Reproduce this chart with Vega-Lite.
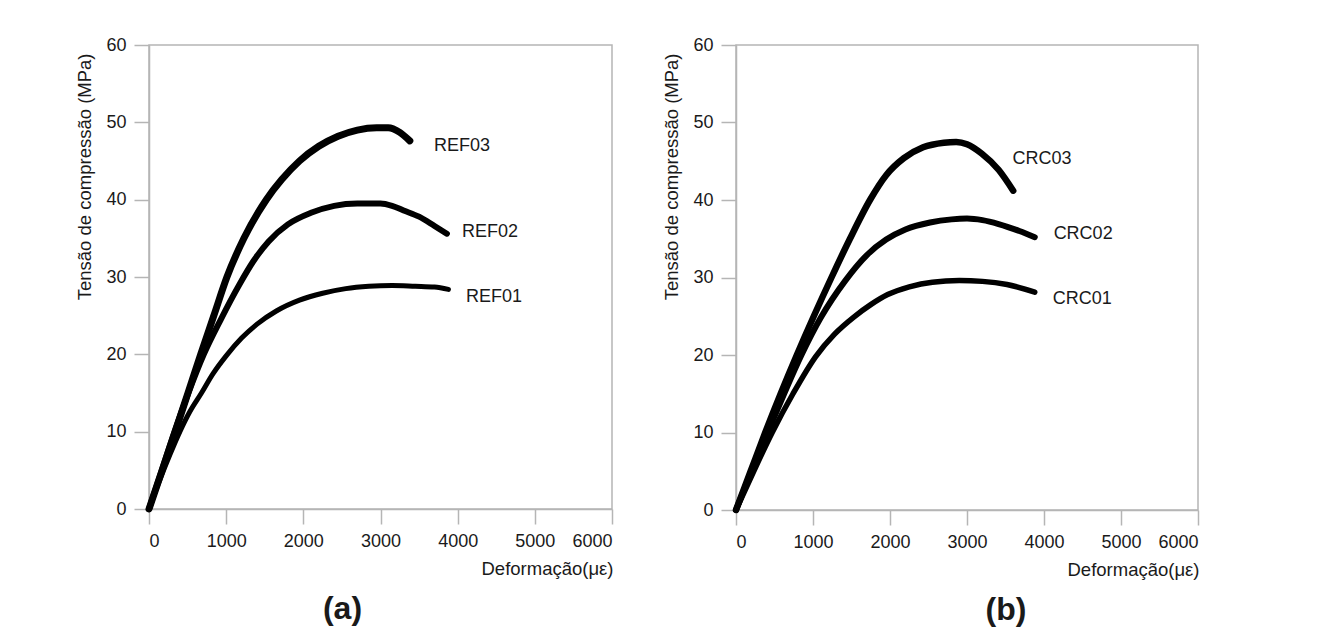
{
  "$schema": "https://vega.github.io/schema/vega-lite/v6.json",
  "background": "white",
  "padding": {"left": 74, "top": 35, "right": 10, "bottom": 5},
  "spacing": 47,
  "config": {
    "font": "Liberation Sans",
    "view": {"stroke": "#b5b5b5", "strokeWidth": 1.5},
    "axis": {
      "grid": false,
      "domainColor": "#b5b5b5",
      "domainWidth": 1.5,
      "tickColor": "#b5b5b5",
      "tickWidth": 1.5,
      "labelFont": "Liberation Sans",
      "labelFontSize": 18,
      "labelColor": "#1a1a1a",
      "titleFont": "Liberation Sans",
      "titleFontSize": 18.5,
      "titleFontWeight": "normal",
      "titleColor": "#1a1a1a"
    },
    "title": {"font": "Liberation Sans", "fontSize": 32, "fontWeight": "bold", "color": "#1a1a1a"}
  },
  "datasets": {
    "curves": [
      {"panel": "a", "series": "REF01", "strain": 0, "stress": 0},
      {"panel": "a", "series": "REF01", "strain": 130, "stress": 3.5},
      {"panel": "a", "series": "REF01", "strain": 270, "stress": 7},
      {"panel": "a", "series": "REF01", "strain": 400, "stress": 10},
      {"panel": "a", "series": "REF01", "strain": 530, "stress": 12.6},
      {"panel": "a", "series": "REF01", "strain": 680, "stress": 15},
      {"panel": "a", "series": "REF01", "strain": 830, "stress": 17.5},
      {"panel": "a", "series": "REF01", "strain": 1000, "stress": 19.8},
      {"panel": "a", "series": "REF01", "strain": 1200, "stress": 22.1},
      {"panel": "a", "series": "REF01", "strain": 1400, "stress": 23.9},
      {"panel": "a", "series": "REF01", "strain": 1650, "stress": 25.6},
      {"panel": "a", "series": "REF01", "strain": 1950, "stress": 27.0},
      {"panel": "a", "series": "REF01", "strain": 2250, "stress": 27.9},
      {"panel": "a", "series": "REF01", "strain": 2550, "stress": 28.5},
      {"panel": "a", "series": "REF01", "strain": 2850, "stress": 28.8},
      {"panel": "a", "series": "REF01", "strain": 3150, "stress": 28.9},
      {"panel": "a", "series": "REF01", "strain": 3450, "stress": 28.8},
      {"panel": "a", "series": "REF01", "strain": 3700, "stress": 28.7},
      {"panel": "a", "series": "REF01", "strain": 3880, "stress": 28.4},
      {"panel": "a", "series": "REF02", "strain": 0, "stress": 0},
      {"panel": "a", "series": "REF02", "strain": 165, "stress": 5},
      {"panel": "a", "series": "REF02", "strain": 330, "stress": 10},
      {"panel": "a", "series": "REF02", "strain": 510, "stress": 15},
      {"panel": "a", "series": "REF02", "strain": 710, "stress": 20},
      {"panel": "a", "series": "REF02", "strain": 930, "stress": 24.5},
      {"panel": "a", "series": "REF02", "strain": 1170, "stress": 29.0},
      {"panel": "a", "series": "REF02", "strain": 1350, "stress": 32.0},
      {"panel": "a", "series": "REF02", "strain": 1550, "stress": 34.6},
      {"panel": "a", "series": "REF02", "strain": 1800, "stress": 36.8},
      {"panel": "a", "series": "REF02", "strain": 2100, "stress": 38.3},
      {"panel": "a", "series": "REF02", "strain": 2400, "stress": 39.2},
      {"panel": "a", "series": "REF02", "strain": 2700, "stress": 39.5},
      {"panel": "a", "series": "REF02", "strain": 3000, "stress": 39.5},
      {"panel": "a", "series": "REF02", "strain": 3150, "stress": 39.2},
      {"panel": "a", "series": "REF02", "strain": 3300, "stress": 38.6},
      {"panel": "a", "series": "REF02", "strain": 3500, "stress": 37.8},
      {"panel": "a", "series": "REF02", "strain": 3700, "stress": 36.6},
      {"panel": "a", "series": "REF02", "strain": 3860, "stress": 35.6},
      {"panel": "a", "series": "REF03", "strain": 0, "stress": 0},
      {"panel": "a", "series": "REF03", "strain": 170, "stress": 5},
      {"panel": "a", "series": "REF03", "strain": 340, "stress": 10},
      {"panel": "a", "series": "REF03", "strain": 505, "stress": 15},
      {"panel": "a", "series": "REF03", "strain": 670, "stress": 20},
      {"panel": "a", "series": "REF03", "strain": 840, "stress": 25},
      {"panel": "a", "series": "REF03", "strain": 1010, "stress": 30},
      {"panel": "a", "series": "REF03", "strain": 1230, "stress": 35},
      {"panel": "a", "series": "REF03", "strain": 1520, "stress": 40},
      {"panel": "a", "series": "REF03", "strain": 1720, "stress": 42.6},
      {"panel": "a", "series": "REF03", "strain": 1950, "stress": 45},
      {"panel": "a", "series": "REF03", "strain": 2200, "stress": 46.9},
      {"panel": "a", "series": "REF03", "strain": 2450, "stress": 48.2},
      {"panel": "a", "series": "REF03", "strain": 2700, "stress": 49.0},
      {"panel": "a", "series": "REF03", "strain": 2950, "stress": 49.3},
      {"panel": "a", "series": "REF03", "strain": 3100, "stress": 49.3},
      {"panel": "a", "series": "REF03", "strain": 3250, "stress": 48.7},
      {"panel": "a", "series": "REF03", "strain": 3380, "stress": 47.6},
      {"panel": "b", "series": "CRC01", "strain": 0, "stress": 0},
      {"panel": "b", "series": "CRC01", "strain": 230, "stress": 5},
      {"panel": "b", "series": "CRC01", "strain": 470, "stress": 10},
      {"panel": "b", "series": "CRC01", "strain": 740, "stress": 15},
      {"panel": "b", "series": "CRC01", "strain": 1035, "stress": 19.8},
      {"panel": "b", "series": "CRC01", "strain": 1280, "stress": 22.7},
      {"panel": "b", "series": "CRC01", "strain": 1530, "stress": 24.9},
      {"panel": "b", "series": "CRC01", "strain": 1750, "stress": 26.5},
      {"panel": "b", "series": "CRC01", "strain": 1970, "stress": 27.8},
      {"panel": "b", "series": "CRC01", "strain": 2250, "stress": 28.8},
      {"panel": "b", "series": "CRC01", "strain": 2550, "stress": 29.4},
      {"panel": "b", "series": "CRC01", "strain": 2900, "stress": 29.6},
      {"panel": "b", "series": "CRC01", "strain": 3200, "stress": 29.5},
      {"panel": "b", "series": "CRC01", "strain": 3520, "stress": 29.1},
      {"panel": "b", "series": "CRC01", "strain": 3880, "stress": 28.1},
      {"panel": "b", "series": "CRC02", "strain": 0, "stress": 0},
      {"panel": "b", "series": "CRC02", "strain": 200, "stress": 5},
      {"panel": "b", "series": "CRC02", "strain": 410, "stress": 10},
      {"panel": "b", "series": "CRC02", "strain": 625, "stress": 15},
      {"panel": "b", "series": "CRC02", "strain": 850, "stress": 20},
      {"panel": "b", "series": "CRC02", "strain": 1100, "stress": 24.8},
      {"panel": "b", "series": "CRC02", "strain": 1420, "stress": 29.6},
      {"panel": "b", "series": "CRC02", "strain": 1700, "stress": 32.9},
      {"panel": "b", "series": "CRC02", "strain": 1950, "stress": 34.9},
      {"panel": "b", "series": "CRC02", "strain": 2200, "stress": 36.2},
      {"panel": "b", "series": "CRC02", "strain": 2520, "stress": 37.1},
      {"panel": "b", "series": "CRC02", "strain": 2800, "stress": 37.5},
      {"panel": "b", "series": "CRC02", "strain": 3000, "stress": 37.6},
      {"panel": "b", "series": "CRC02", "strain": 3200, "stress": 37.4},
      {"panel": "b", "series": "CRC02", "strain": 3410, "stress": 36.9},
      {"panel": "b", "series": "CRC02", "strain": 3680, "stress": 36.0},
      {"panel": "b", "series": "CRC02", "strain": 3880, "stress": 35.2},
      {"panel": "b", "series": "CRC03", "strain": 0, "stress": 0},
      {"panel": "b", "series": "CRC03", "strain": 190, "stress": 5},
      {"panel": "b", "series": "CRC03", "strain": 380, "stress": 10},
      {"panel": "b", "series": "CRC03", "strain": 580, "stress": 15},
      {"panel": "b", "series": "CRC03", "strain": 790, "stress": 20},
      {"panel": "b", "series": "CRC03", "strain": 1010, "stress": 25},
      {"panel": "b", "series": "CRC03", "strain": 1240, "stress": 30},
      {"panel": "b", "series": "CRC03", "strain": 1480, "stress": 35},
      {"panel": "b", "series": "CRC03", "strain": 1740, "stress": 40},
      {"panel": "b", "series": "CRC03", "strain": 1950, "stress": 43.2},
      {"panel": "b", "series": "CRC03", "strain": 2180, "stress": 45.4},
      {"panel": "b", "series": "CRC03", "strain": 2430, "stress": 46.8},
      {"panel": "b", "series": "CRC03", "strain": 2700, "stress": 47.4},
      {"panel": "b", "series": "CRC03", "strain": 2860, "stress": 47.5},
      {"panel": "b", "series": "CRC03", "strain": 3000, "stress": 47.2},
      {"panel": "b", "series": "CRC03", "strain": 3190, "stress": 46.0},
      {"panel": "b", "series": "CRC03", "strain": 3410, "stress": 43.9},
      {"panel": "b", "series": "CRC03", "strain": 3600, "stress": 41.2}
    ],
    "labels": [
      {"panel": "a", "name": "REF03", "strain": 3693, "stress": 46.9},
      {"panel": "a", "name": "REF02", "strain": 4056, "stress": 35.8},
      {"panel": "a", "name": "REF01", "strain": 4108, "stress": 27.4},
      {"panel": "b", "name": "CRC03", "strain": 3590, "stress": 45.3},
      {"panel": "b", "name": "CRC02", "strain": 4125, "stress": 35.65},
      {"panel": "b", "name": "CRC01", "strain": 4113, "stress": 27.2}
    ]
  },
  "hconcat": [
    {
      "width": 463,
      "height": 464,
      "title": {"text": "(a)", "orient": "bottom", "anchor": "middle", "frame": "group", "dx": -38, "offset": 16},
      "layer": [
        {
          "data": {"name": "curves"},
          "transform": [{"filter": "datum.panel === 'a'"}],
          "mark": {"type": "line", "color": "#000000", "strokeCap": "round", "strokeJoin": "round", "interpolate": "monotone"},
          "encoding": {
            "x": {"field": "strain", "type": "quantitative", "scale": {"domain": [0, 6000], "nice": false},
              "axis": {"values": [0,250,500,750,1000,1250,1500,1750,2000,2250,2500,2750,3000,3250,3500,3750,4000,4250,4500,4750,5000,5250,5500,5750,6000],
                "format": "d",
                "labelExpr": "datum.value % 1000 === 0 ? datum.label : ''",
                "tickSize": {"condition": {"test": "datum.value % 1000 === 0", "value": 15}, "value": 8},
                "labelPadding": 8,
                "title": "Deformação(με)",
                "titleX": 464, "titleY": 59, "titleAlign": "right", "titleBaseline": "middle"}},
            "y": {"field": "stress", "type": "quantitative", "scale": {"domain": [0, 60], "nice": false},
              "axis": {"values": [0,2.5,5,7.5,10,12.5,15,17.5,20,22.5,25,27.5,30,32.5,35,37.5,40,42.5,45,47.5,50,52.5,55,57.5,60],
                "labelExpr": "datum.value % 10 === 0 ? datum.label : ''",
                "tickSize": {"condition": {"test": "datum.value % 10 === 0", "value": 15}, "value": 8},
                "labelPadding": 8,
                "title": "Tensão de compressão (MPa)",
                "titleX": -65, "titleY": 8, "titleAngle": -90, "titleAlign": "right", "titleBaseline": "middle"}},
            "detail": {"field": "series"},
            "size": {"field": "series", "type": "ordinal", "legend": null,
              "scale": {"domain": ["REF01","REF02","REF03"], "range": [5, 7, 3.5]}}
          }
        },
        {
          "data": {"name": "labels"},
          "transform": [{"filter": "datum.panel === 'a'"}],
          "mark": {"type": "text", "align": "left", "baseline": "middle", "fontSize": 18, "color": "#1a1a1a", "font": "Liberation Sans"},
          "encoding": {
            "x": {"field": "strain", "type": "quantitative"},
            "y": {"field": "stress", "type": "quantitative"},
            "text": {"field": "name"}
          }
        }
      ]
    },
    {
      "width": 462,
      "height": 465,
      "title": {"text": "(b)", "orient": "bottom", "anchor": "middle", "frame": "group", "dx": 39, "offset": 16},
      "layer": [
        {
          "data": {"name": "curves"},
          "transform": [{"filter": "datum.panel === 'b'"}],
          "mark": {"type": "line", "color": "#000000", "strokeCap": "round", "strokeJoin": "round", "interpolate": "monotone"},
          "encoding": {
            "x": {"field": "strain", "type": "quantitative", "scale": {"domain": [0, 6000], "nice": false},
              "axis": {"values": [0,250,500,750,1000,1250,1500,1750,2000,2250,2500,2750,3000,3250,3500,3750,4000,4250,4500,4750,5000,5250,5500,5750,6000],
                "format": "d",
                "labelExpr": "datum.value % 1000 === 0 ? datum.label : ''",
                "tickSize": {"condition": {"test": "datum.value % 1000 === 0", "value": 15}, "value": 8},
                "labelPadding": 8,
                "title": "Deformação(με)",
                "titleX": 463, "titleY": 59, "titleAlign": "right", "titleBaseline": "middle"}},
            "y": {"field": "stress", "type": "quantitative", "scale": {"domain": [0, 60], "nice": false},
              "axis": {"values": [0,2.5,5,7.5,10,12.5,15,17.5,20,22.5,25,27.5,30,32.5,35,37.5,40,42.5,45,47.5,50,52.5,55,57.5,60],
                "labelExpr": "datum.value % 10 === 0 ? datum.label : ''",
                "tickSize": {"condition": {"test": "datum.value % 10 === 0", "value": 15}, "value": 8},
                "labelPadding": 8,
                "title": "Tensão de compressão (MPa)",
                "titleX": -65, "titleY": 8, "titleAngle": -90, "titleAlign": "right", "titleBaseline": "middle"}},
            "detail": {"field": "series"},
            "size": {"field": "series", "type": "ordinal", "legend": null,
              "scale": {"domain": ["CRC01","CRC02","CRC03"], "range": [5.5, 6.5, 3.5]}}
          }
        },
        {
          "data": {"name": "labels"},
          "transform": [{"filter": "datum.panel === 'b'"}],
          "mark": {"type": "text", "align": "left", "baseline": "middle", "fontSize": 18, "color": "#1a1a1a", "font": "Liberation Sans"},
          "encoding": {
            "x": {"field": "strain", "type": "quantitative"},
            "y": {"field": "stress", "type": "quantitative"},
            "text": {"field": "name"}
          }
        }
      ]
    }
  ],
  "resolve": {"scale": {"size": "independent"}}
}
